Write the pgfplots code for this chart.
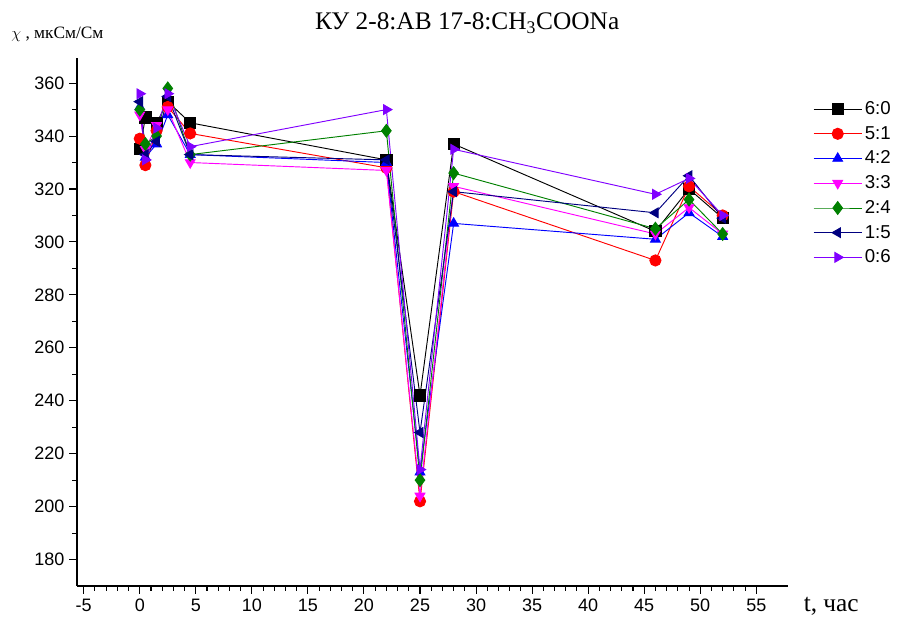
\documentclass[border=0pt]{standalone}
\usepackage{fontspec}
\setmainfont{Liberation Serif}
\newfontfamily\arial{Liberation Sans}
\usepackage{pgfplots}
\pgfplotsset{compat=1.18}

\definecolor{cNavy}{RGB}{0,0,128}
\definecolor{cViolet}{RGB}{128,0,255}
\definecolor{cGreen}{RGB}{0,128,0}
\definecolor{cMag}{RGB}{255,0,255}

\begin{document}
\begin{tikzpicture}[x=0.75pt,y=0.75pt]
\useasboundingbox (-77,-37) rectangle (829,586);
\begin{axis}[
    at={(0,0)}, anchor=south west,
    scale only axis,
    width=533pt, height=396pt,
    xmin=-5.6, xmax=57.8,
    ymin=170, ymax=369.5,
    axis lines=left,
    axis line style={-, line width=0.9pt},
    xtick={-5,0,...,55},
    ytick={180,200,...,360},
    minor x tick num=4,
    minor y tick num=1,
    tick align=outside,
    major tick length=6pt,
    minor tick length=3.5pt,
    tick style={black, line width=0.8pt},
    ticklabel style={font=\arial\fontsize{13.5}{15}\selectfont},
    /pgf/number format/assume math mode=true,
    /pgf/number format/1000 sep={},
    clip=false,
    every axis plot/.append style={line width=0.7pt, mark size=4.2pt},
    legend style={at={(1.03,0.928)}, anchor=north west, draw=none,
      font=\arial\fontsize{14}{16}\selectfont, row sep=3.3pt,
      legend cell align=left},
    legend image code/.code={
      \draw[mark repeat=2,mark phase=2,#1] plot coordinates {(0pt,0pt)(18pt,0pt)(36pt,0pt)};},
]
\addplot[black, mark=square*] coordinates {
(0,335)(0.5,347)(1.5,345)(2.5,353)(4.5,345)(22,331)(25,242)(28,337)(46,304)(49,320)(52,309)};
\addlegendentry{6:0}
\addplot[red, mark=*] coordinates {
(0,339)(0.5,329)(1.5,342)(2.5,351)(4.5,341)(22,328)(25,202)(28,319)(46,293)(49,321)(52,310)};
\addlegendentry{5:1}
\addplot[blue, mark=triangle*] coordinates {
(0,351)(0.5,332)(1.5,337)(2.5,348)(4.5,333)(22,330)(25,213)(28,307)(46,301)(49,311)(52,302)};
\addlegendentry{4:2}
\addplot[cMag, mark=triangle*, mark options={rotate=180}] coordinates {
(0,348)(0.5,335)(1.5,344)(2.5,350)(4.5,330)(22,327)(25,204)(28,321)(46,303)(49,313)(52,303)};
\addlegendentry{3:3}
\addplot[cGreen, mark=diamond*, mark size=4.8pt] coordinates {
(0,350)(0.5,337)(1.5,340)(2.5,358)(4.5,333)(22,342)(25,210)(28,326)(46,305)(49,316)(52,303)};
\addlegendentry{2:4}
\addplot[cNavy, mark=triangle*, mark options={rotate=90}] coordinates {
(0,353)(0.5,333)(1.5,338)(2.5,355)(4.5,333)(22,331)(25,228)(28,319)(46,311)(49,325)(52,309)};
\addlegendentry{1:5}
\addplot[cViolet, mark=triangle*, mark options={rotate=-90}] coordinates {
(0,356)(0.5,331)(1.5,343)(2.5,356)(4.5,336)(22,350)(25,214)(28,335)(46,318)(49,324)(52,310)};
\addlegendentry{0:6}
\node[anchor=center, font=\fontsize{19}{21}\selectfont] at (rel axis cs:0.549,1.066)
  {КУ 2-8:АВ 17-8:CH\textsubscript{3}COONa};
\node[anchor=west, font=\fontsize{13}{15}\selectfont] at (rel axis cs:-0.099,1.044)
  {$\chi$ , мкСм/См};
\node[anchor=west, font=\fontsize{19}{21}\selectfont] at (rel axis cs:1.016,-0.038)
  {t, час};
\end{axis}
\end{tikzpicture}
\end{document}
